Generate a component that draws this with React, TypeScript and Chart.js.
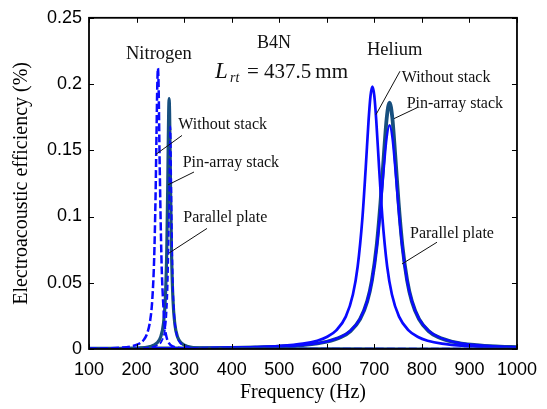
import React, { useEffect, useRef } from "react";
import { Chart, registerables } from "chart.js";

Chart.register(...registerables);

// ---------- data ----------
const xTickValues = [100, 200, 300, 400, 500, 600, 700, 800, 900, 1000];
const yTickValues = [0, 0.05, 0.1, 0.15, 0.2, 0.25];

// Nitrogen
const n2WithoutFreq = [100, 165, 190, 205, 215, 223, 229, 233, 237, 240, 242, 243.5, 245, 246.5, 248, 250, 253, 256, 259, 263, 269, 275, 285, 305, 400, 600, 1000];
const n2WithoutEff = [0.000305, 0.000997, 0.0021, 0.00393, 0.00689, 0.01247, 0.0224, 0.0368, 0.068, 0.1161, 0.1634, 0.1973, 0.212, 0.196, 0.155, 0.11, 0.06, 0.035, 0.018, 0.009, 0.004, 0.0022, 0.001, 0.0004, 0.0001, 0.00002, 0.00001];

const n2PinFreq = [100, 200, 228.5, 242.5, 250.5, 256.5, 260.5, 263.5, 265.5, 266.5, 267.5, 268.5, 269.5, 270.5, 271.5, 273.5, 276.5, 280.5, 286.5, 294.5, 308.5, 338.5, 400, 600, 1000];
const n2PinEff = [0.000107, 0.000642, 0.00187, 0.00437, 0.00889, 0.0189, 0.0378, 0.0738, 0.121, 0.1512, 0.1779, 0.189, 0.1779, 0.1512, 0.121, 0.0738, 0.0378, 0.0189, 0.00889, 0.00437, 0.00187, 0.000616, 0.000175, 0.0000275, 0.00001];

const n2ParallelFreq = [100, 201, 231, 245, 253, 259, 263, 266, 268, 269, 270, 271, 272, 273, 274, 276, 279, 283, 289, 297, 311, 341, 400, 600, 1000];
const n2ParallelEff = [0.00007, 0.00042, 0.00128, 0.00299, 0.00612, 0.01317, 0.027, 0.0553, 0.0969, 0.1267, 0.1553, 0.168, 0.1553, 0.1267, 0.0969, 0.0553, 0.027, 0.01317, 0.00612, 0.00299, 0.00128, 0.00042, 0.000124, 0.00002, 0.00001];

// Helium
const heWithoutFreq = [100, 200, 300, 400, 450, 500, 550, 580, 600, 620, 640, 655, 665, 675, 682, 688, 692, 696, 700, 704, 710, 717, 727, 737, 752, 772, 792, 812, 842, 892, 942, 1000];
const heWithoutEff = [0.000245, 0.000354, 0.000555, 0.000991, 0.001433, 0.002247, 0.004014, 0.006284, 0.009041, 0.01404, 0.02441, 0.04115, 0.06228, 0.099, 0.1371, 0.1729, 0.1911, 0.198, 0.1911, 0.1729, 0.1371, 0.099, 0.06228, 0.04115, 0.02441, 0.01404, 0.009041, 0.006284, 0.004014, 0.002247, 0.001433, 0.00094];

const heFreq = [100, 200, 300, 400, 450, 500, 550, 600, 630, 650, 670, 685, 695, 705, 713, 720, 726, 732, 738, 744, 751, 759, 769, 779, 794, 814, 834, 864, 914, 964, 1000];
const hePinEff = [0.000246, 0.000347, 0.000526, 0.000888, 0.001229, 0.001811, 0.002924, 0.00548, 0.009, 0.01357, 0.0225, 0.03594, 0.05184, 0.07822, 0.1106, 0.1462, 0.1741, 0.186, 0.1741, 0.1462, 0.1106, 0.07822, 0.05184, 0.03594, 0.0225, 0.01357, 0.009, 0.00548, 0.002924, 0.001811, 0.00136];
const heParallelEff = [0.000254, 0.000358, 0.000542, 0.000915, 0.001266, 0.001864, 0.003008, 0.005628, 0.00922, 0.01385, 0.02283, 0.03611, 0.05151, 0.0763, 0.1055, 0.1363, 0.1594, 0.169, 0.1594, 0.1363, 0.1055, 0.0763, 0.05151, 0.03611, 0.02283, 0.01385, 0.00922, 0.005628, 0.003008, 0.001864, 0.0014];

// text
const gasLabels = ["Nitrogen", "Helium"];
const caseLabels = ["Without stack", "Pin-array stack", "Parallel plate"];
const modelLabel = "B4N";
const lengthSymbol = "L";
const lengthSub = "rt";
const lengthValue = "= 437.5";
const lengthUnit = "mm";
const xTitle = "Frequency (Hz)";
const yTitle = "Electroacoustic efficiency (%)";

// ---------- layout (data coordinates for anchors) ----------
const gasPos = [[177.8, 0.2187], [684.6, 0.2219]];
const casePos = [
  [[287.8, 0.1664], [297, 0.1373], [298.3, 0.0957]],
  [[757.6, 0.2013], [768, 0.1821], [775, 0.0838]],
];
const leaderPos = [
  [[[295.6, 0.1612], [240.9, 0.147]], [[320.8, 0.1336], [266.1, 0.1239]], [[348.1, 0.091], [268.2, 0.0724]]],
  [[[754, 0.2097], [703.5, 0.1769]], [[789.7, 0.1821], [741.4, 0.1739]], [[831.8, 0.0806], [758.2, 0.0642]]],
];
const modelPos = [453.3, 0.2269];
const lengthPos = [365, 0.2045];

const BLUE = "#0a0aff";
const TEAL = "#174f7e";
const SERIF = "'Liberation Serif', 'Times New Roman', serif";
const SANS = "'Liberation Sans', Arial, sans-serif";

const pts = (xs: number[], ys: number[]) => xs.map((x, i) => ({ x, y: ys[i] }));

const framePlugin = {
  id: "frame",
  afterDatasetsDraw(chart: any) {
    const { ctx, chartArea, scales } = chart;
    const { left, right, top, bottom } = chartArea;
    ctx.save();
    ctx.strokeStyle = "#000";
    ctx.lineWidth = 1.8;
    ctx.strokeRect(left, top, right - left, bottom - top);
    ctx.lineWidth = 1;
    const tl = 5;
    ctx.beginPath();
    xTickValues.forEach((v) => {
      const p = Math.round(scales.x.getPixelForValue(v)) + 0.5;
      ctx.moveTo(p, bottom);
      ctx.lineTo(p, bottom - tl);
      ctx.moveTo(p, top);
      ctx.lineTo(p, top + tl);
    });
    yTickValues.forEach((v) => {
      const p = Math.round(scales.y.getPixelForValue(v)) + 0.5;
      ctx.moveTo(left, p);
      ctx.lineTo(left + tl, p);
      ctx.moveTo(right, p);
      ctx.lineTo(right - tl, p);
    });
    ctx.stroke();
    ctx.restore();
  },
};

const annotationPlugin = {
  id: "notes",
  afterDraw(chart: any) {
    const { ctx, scales } = chart;
    const X = (v: number) => scales.x.getPixelForValue(v);
    const Y = (v: number) => scales.y.getPixelForValue(v);
    ctx.save();
    ctx.fillStyle = "#111";
    ctx.strokeStyle = "#111";
    ctx.textBaseline = "alphabetic";
    ctx.textAlign = "left";
    ctx.font = `18.5px ${SERIF}`;
    gasLabels.forEach((t, i) => ctx.fillText(t, X(gasPos[i][0]), Y(gasPos[i][1])));
    ctx.font = `18px ${SERIF}`;
    ctx.fillText(modelLabel, X(modelPos[0]), Y(modelPos[1]));
    const lx = X(lengthPos[0]);
    const ly = Y(lengthPos[1]);
    ctx.font = `italic 23px ${SERIF}`;
    ctx.fillText(lengthSymbol, lx, ly);
    ctx.font = `italic 14px ${SERIF}`;
    ctx.fillText(lengthSub, lx + 15, ly + 4);
    ctx.font = `21px ${SERIF}`;
    ctx.fillText(lengthValue, lx + 32, ly);
    const w = ctx.measureText(lengthValue).width;
    ctx.fillText(lengthUnit, lx + 32 + w + 4, ly);
    ctx.font = `16px ${SERIF}`;
    ctx.lineWidth = 1;
    for (let g = 0; g < 2; g++) {
      caseLabels.forEach((t, i) => {
        ctx.fillText(t, X(casePos[g][i][0]), Y(casePos[g][i][1]));
        const [a, b] = leaderPos[g][i];
        ctx.beginPath();
        ctx.moveTo(X(a[0]), Y(a[1]));
        ctx.lineTo(X(b[0]), Y(b[1]));
        ctx.stroke();
      });
    }
    ctx.restore();
  },
};

export default function App() {
  const ref = useRef<HTMLCanvasElement>(null);
  useEffect(() => {
    const canvas = ref.current;
    if (!canvas) return;
    const chart = new Chart(canvas, {
      type: "line",
      data: {
        datasets: [
          { label: "N2 without", data: pts(n2WithoutFreq, n2WithoutEff), borderColor: BLUE, borderWidth: 2.5, borderDash: [8, 3], order: 2 },
          { label: "N2 parallel", data: pts(n2ParallelFreq, n2ParallelEff), borderColor: BLUE, borderWidth: 1.8, borderDash: [6, 3], order: 1 },
          { label: "N2 pin", data: pts(n2PinFreq, n2PinEff), borderColor: TEAL, borderWidth: 3.2, order: 3 },
          { label: "He without", data: pts(heWithoutFreq, heWithoutEff), borderColor: BLUE, borderWidth: 2.7, order: 4 },
          { label: "He parallel", data: pts(heFreq, heParallelEff), borderColor: BLUE, borderWidth: 2.4, order: 5 },
          { label: "He pin", data: pts(heFreq, hePinEff), borderColor: TEAL, borderWidth: 3.8, order: 6 },
        ] as any,
      },
      options: {
        animation: false,
        responsive: false,
        layout: { padding: { top: 14, right: 30, left: 0, bottom: 0 } },
        plugins: { legend: { display: false }, tooltip: { enabled: false } },
        elements: { point: { radius: 0 }, line: { cubicInterpolationMode: "monotone", fill: false } },
        scales: {
          x: {
            type: "linear",
            min: 100,
            max: 1000,
            afterBuildTicks: (s: any) => { s.ticks = xTickValues.map((value) => ({ value })); },
            afterFit: (s: any) => { s.height = 60; },
            grid: { display: false, drawTicks: false },
            border: { display: false },
            ticks: { color: "#000", font: { family: SANS, size: 18 }, padding: 10, maxRotation: 0, autoSkip: false, callback: (v: any) => String(v) },
            title: { display: true, text: xTitle, color: "#000", font: { family: SERIF, size: 20 }, padding: { top: 0, bottom: 4 } },
          },
          y: {
            type: "linear",
            min: 0,
            max: 0.25,
            afterBuildTicks: (s: any) => { s.ticks = yTickValues.map((value) => ({ value })); },
            afterFit: (s: any) => { s.width = 89; },
            grid: { display: false, drawTicks: false },
            border: { display: false },
            ticks: { color: "#000", font: { family: SANS, size: 18 }, padding: 7, callback: (v: any) => String(Number(Number(v).toFixed(2))) },
            title: { display: true, text: yTitle, color: "#000", font: { family: SERIF, size: 20 }, padding: { top: 10, bottom: 0 } },
          },
        },
      } as any,
      plugins: [framePlugin, annotationPlugin],
    });
    return () => chart.destroy();
  }, []);
  return (
    <div style={{ position: "fixed", left: 0, top: 0, width: 547, height: 409, background: "#fff" }}>
      <canvas ref={ref} width={547} height={409} style={{ display: "block" }} />
    </div>
  );
}
